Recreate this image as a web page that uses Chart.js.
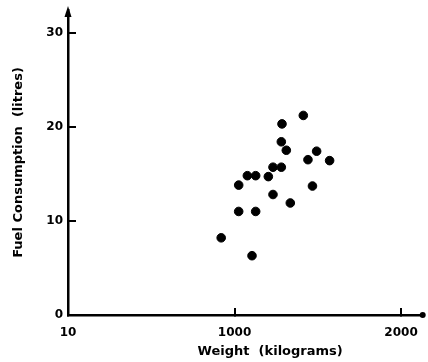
<!DOCTYPE html>
<html>
<head>
<meta charset="utf-8">
<script src="https://cdn.jsdelivr.net/npm/chart.js@4"></script>
<style>
  html, body { margin: 0; padding: 0; background: #fff; }
  #wrap { width: 428px; height: 362px; }
</style>
</head>
<body>
<div id="wrap"><canvas id="fuel-chart"></canvas></div>
<script>
// weight (kg) vs fuel consumption (litres)
const weights = [920, 1105, 1025, 1025, 1077, 1127, 1127, 1203, 1231, 1231,
  1281, 1281, 1285, 1311, 1335, 1413, 1441, 1468, 1493, 1571];
const fuel = [8.2, 6.3, 13.8, 11.0, 14.8, 14.8, 11.0, 14.7, 15.7, 12.8,
  15.7, 18.4, 20.3, 17.5, 11.9, 21.2, 16.5, 13.7, 17.4, 16.4];

const xTicks = [0, 1000, 2000];
const xTickLabels = ["10", "1000", "2000"];
const yTicks = [0, 10, 20, 30];
const yTickLabels = ["0", "10", "20", "30"];

const xTitle = "Weight  (kilograms)";
const yTitle = "Fuel Consumption  (litres)";

const points = weights.map((w, i) => ({ x: w, y: fuel[i] }));

const font = { family: "'DejaVu Sans', sans-serif", weight: "bold" };

// arrow heads at the axis ends, plus the x title (sits right of centre in the scan)
const axisExtras = {
  id: "axisExtras",
  afterDraw(chart) {
    const { ctx, chartArea } = chart;
    const left = chart.scales.x.left;
    const bottom = chart.scales.y.bottom;
    ctx.save();
    ctx.fillStyle = "#000";
    ctx.beginPath();
    ctx.moveTo(left, chartArea.top - 4);
    ctx.lineTo(left - 3.5, chartArea.top + 7);
    ctx.lineTo(left + 3.5, chartArea.top + 7);
    ctx.closePath();
    ctx.fill();
    ctx.beginPath();
    ctx.arc(chartArea.right, bottom, 3, 0, Math.PI * 2);
    ctx.fill();

    ctx.font = "bold 13px 'DejaVu Sans', sans-serif";
    ctx.textAlign = "center";
    ctx.textBaseline = "middle";
    ctx.fillText(xTitle, chartArea.left + (chartArea.right - chartArea.left) * 0.57, chart.height - 10);
    ctx.restore();
  },
};

const config = {
  type: "scatter",
  data: {
    datasets: [
      {
        label: "Cars",
        data: points,
        backgroundColor: "#000",
        borderColor: "#000",
        pointRadius: 4.3,
        pointHoverRadius: 4.3,
      },
    ],
  },
  options: {
    responsive: true,
    maintainAspectRatio: false,
    animation: false,
    layout: { padding: { top: 10, right: 5, left: 0, bottom: 0 } },
    plugins: {
      legend: { display: false },
      tooltip: { enabled: false },
    },
    scales: {
      x: {
        type: "linear",
        min: 0,
        max: 2130,
        afterBuildTicks: (scale) => {
          scale.ticks = xTicks.map((v) => ({ value: v }));
        },
        afterFit: (scale) => {
          scale.height = 47;
          scale.paddingLeft = 0;
          scale.paddingRight = 0;
        },
        ticks: {
          color: "#000",
          font: { ...font, size: 12 },
          padding: 18,
          maxRotation: 0,
          callback: (v) => xTickLabels[xTicks.indexOf(v)],
        },
        grid: {
          drawOnChartArea: false,
          tickLength: -7,
          color: "#000",
          lineWidth: 2,
        },
        border: { display: true, color: "#000", width: 2.5 },
        title: { display: false },
      },
      y: {
        type: "linear",
        min: 0,
        max: 32.4,
        afterBuildTicks: (scale) => {
          scale.ticks = yTicks.map((v) => ({ value: v }));
        },
        afterFit: (scale) => {
          scale.width = 68;
          scale.paddingTop = 0;
          scale.paddingBottom = 0;
        },
        ticks: {
          color: "#000",
          font: { ...font, size: 12 },
          padding: 13,
          callback: (v) => yTickLabels[yTicks.indexOf(v)],
        },
        grid: {
          drawOnChartArea: false,
          tickLength: -8,
          color: "#000",
          lineWidth: 2,
        },
        border: { display: true, color: "#000", width: 2.5 },
        title: {
          display: true,
          text: yTitle,
          color: "#000",
          font: { ...font, size: 13 },
          padding: { top: 11, bottom: 0 },
        },
      },
    },
  },
  plugins: [axisExtras],
};

const fuelCtx = document.getElementById("fuel-chart").getContext("2d");
const fuelChart = new Chart(fuelCtx, config);
</script>
</body>
</html>
